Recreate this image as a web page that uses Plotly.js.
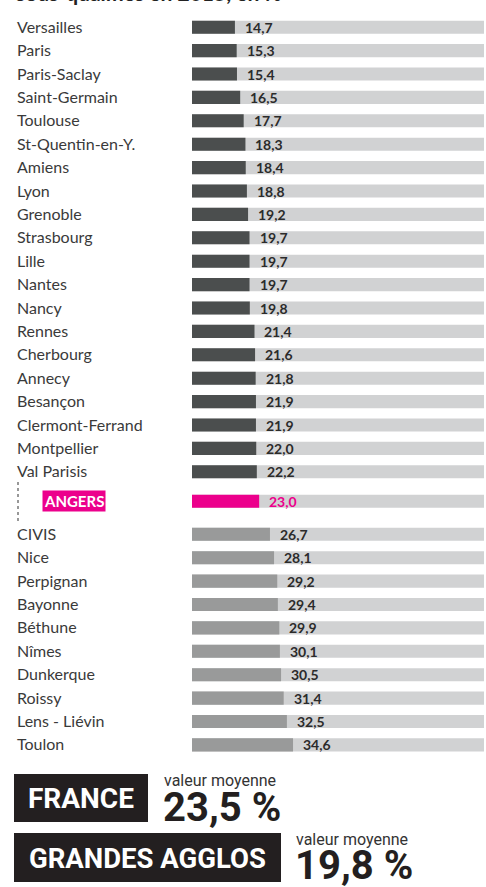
<!DOCTYPE html>
<html>
<head>
<meta charset="utf-8">
<script src="https://cdn.plot.ly/plotly-3.0.1.min.js"></script>
<style>
html,body{margin:0;padding:0;background:#fff;}
#chart{width:486px;height:887px;}
</style>
</head>
<body>
<div id="chart"></div>
<script>
// ---- Data ----
const bigCities = ["Versailles","Paris","Paris-Saclay","Saint-Germain","Toulouse","St-Quentin-en-Y.","Amiens","Lyon","Grenoble","Strasbourg","Lille","Nantes","Nancy","Rennes","Cherbourg","Annecy","Besançon","Clermont-Ferrand","Montpellier","Val Parisis"];
const bigValues = [14.7,15.3,15.4,16.5,17.7,18.3,18.4,18.8,19.2,19.7,19.7,19.7,19.8,21.4,21.6,21.8,21.9,21.9,22.0,22.2];
const focusCity = "ANGERS";
const focusValue = 23.0;
const otherCities = ["CIVIS","Nice","Perpignan","Bayonne","Béthune","Nîmes","Dunkerque","Roissy","Lens - Liévin","Toulon"];
const otherValues = [26.7,28.1,29.2,29.4,29.9,30.1,30.5,31.4,32.5,34.6];
const fullScale = 100;
const franceLabel = "FRANCE";
const franceAvg = 23.5;
const agglosLabel = "GRANDES AGGLOS";
const agglosAvg = 19.8;
const avgCaption = "valeur moyenne";
const titleText = "sous-qualifiés en 2015, en %";

// ---- Layout helpers ----
const W = 486, H = 887;
const ROW = 23.4, FIRST = 27.2;
const FOCUS_POS = 20.26, OTHER_START = 21.67;
const fmt = v => v.toFixed(1).replace('.', ',');
const px = x => x / W;
const py = y => 1 - y / H;

const bigPos = bigCities.map((c, i) => i);
const otherPos = otherCities.map((c, i) => OTHER_START + i);
const allPos = bigPos.concat([FOCUS_POS], otherPos);

const NARROW = "Lato, Roboto, sans-serif";
const BAR_W = 0.56;

const traces = [
  {type:'bar', orientation:'h', x: allPos.map(() => fullScale), y: allPos,
   marker:{color:'#d1d2d3'}, width: BAR_W, hoverinfo:'skip'},
  {type:'bar', orientation:'h', x: bigValues, y: bigPos,
   marker:{color:'#4b4e4e'}, width: BAR_W},
  {type:'bar', orientation:'h', x: [focusValue], y: [FOCUS_POS],
   marker:{color:'#ec008c'}, width: BAR_W},
  {type:'bar', orientation:'h', x: otherValues, y: otherPos,
   marker:{color:'#999a9a'}, width: BAR_W}
];

const annotations = [];
const labelFont = {family:NARROW, size:16, color:'#3a3a3a'};
const valueFont = {family:NARROW, size:14, color:'#2b2b2b'};
bigCities.forEach((c, i) => annotations.push({xref:'paper', yref:'y', x: px(15), y: bigPos[i], yshift: 1, xanchor:'left', yanchor:'middle', text:c, showarrow:false, font:labelFont}));
otherCities.forEach((c, i) => annotations.push({xref:'paper', yref:'y', x: px(15), y: otherPos[i], yshift: 1, xanchor:'left', yanchor:'middle', text:c, showarrow:false, font:labelFont}));
bigValues.forEach((v, i) => annotations.push({xref:'x', yref:'y', x: v, y: bigPos[i], xshift: 8, xanchor:'left', yanchor:'middle', text:'<b>'+fmt(v)+'</b>', showarrow:false, font:valueFont}));
otherValues.forEach((v, i) => annotations.push({xref:'x', yref:'y', x: v, y: otherPos[i], xshift: 8, xanchor:'left', yanchor:'middle', text:'<b>'+fmt(v)+'</b>', showarrow:false, font:valueFont}));
annotations.push({xref:'x', yref:'y', x: focusValue, y: FOCUS_POS, xshift: 8, xanchor:'left', yanchor:'middle', text:'<b>'+fmt(focusValue)+'</b>', showarrow:false, font:{family:NARROW, size:14, color:'#ec008c'}});
annotations.push({xref:'paper', yref:'y', x: px(42), y: FOCUS_POS, xanchor:'left', yanchor:'middle', text:'<b>'+focusCity+'</b>', showarrow:false, bgcolor:'#ec008c', borderpad:1, font:{family:NARROW, size:15, color:'#ffffff'}});

// title (cut off at top, as in the source)
annotations.push({xref:'paper', yref:'paper', x: px(14), y: py(7), xanchor:'left', yanchor:'bottom', text:'<b>'+titleText+'</b>', showarrow:false, font:{family:NARROW, size:21, color:'#222'}});

// bottom summary
const ROB = "Roboto, Liberation Sans, sans-serif";
annotations.push({xref:'paper', yref:'paper', x: px(81), y: py(798), xanchor:'center', yanchor:'middle', text:'<b>'+franceLabel+'</b>', showarrow:false, font:{family:ROB, size:28, color:'#ffffff'}});
annotations.push({xref:'paper', yref:'paper', x: px(162), y: py(780), xanchor:'left', yanchor:'middle', text:avgCaption, showarrow:false, font:{family:ROB, size:16, color:'#333'}});
annotations.push({xref:'paper', yref:'paper', x: px(161), y: py(807), xanchor:'left', yanchor:'middle', text:'<b>'+fmt(franceAvg)+' %</b>', showarrow:false, font:{family:ROB, size:40, color:'#231f20'}});
annotations.push({xref:'paper', yref:'paper', x: px(147), y: py(858), xanchor:'center', yanchor:'middle', text:'<b>'+agglosLabel+'</b>', showarrow:false, font:{family:ROB, size:27.5, color:'#ffffff'}});
annotations.push({xref:'paper', yref:'paper', x: px(294), y: py(839), xanchor:'left', yanchor:'middle', text:avgCaption, showarrow:false, font:{family:ROB, size:16, color:'#333'}});
annotations.push({xref:'paper', yref:'paper', x: px(293), y: py(865), xanchor:'left', yanchor:'middle', text:'<b>'+fmt(agglosAvg)+' %</b>', showarrow:false, font:{family:ROB, size:40, color:'#231f20'}});

const shapes = [
  {type:'rect', xref:'paper', yref:'paper', x0: px(14), x1: px(148), y0: py(774), y1: py(822), fillcolor:'#231f20', line:{width:0}},
  {type:'rect', xref:'paper', yref:'paper', x0: px(14), x1: px(281), y0: py(833), y1: py(882), fillcolor:'#231f20', line:{width:0}},
  {type:'line', xref:'paper', yref:'paper', x0: px(18), x1: px(18), y0: py(482), y1: py(521), line:{color:'#777', width:1.5, dash:'dot'}}
];

const layout = {
  width: W, height: H,
  margin:{l:0, r:0, t:0, b:0},
  paper_bgcolor:'#ffffff', plot_bgcolor:'rgba(0,0,0,0)',
  barmode:'overlay', showlegend:false,
  xaxis:{domain:[px(192), px(484)], range:[0, fullScale], visible:false, fixedrange:true},
  yaxis:{domain:[0,1], range:[(H - FIRST)/ROW, -FIRST/ROW], visible:false, fixedrange:true},
  annotations: annotations,
  shapes: shapes
};

Plotly.newPlot('chart', traces, layout, {displayModeBar:false, staticPlot:true});
</script>
</body>
</html>
